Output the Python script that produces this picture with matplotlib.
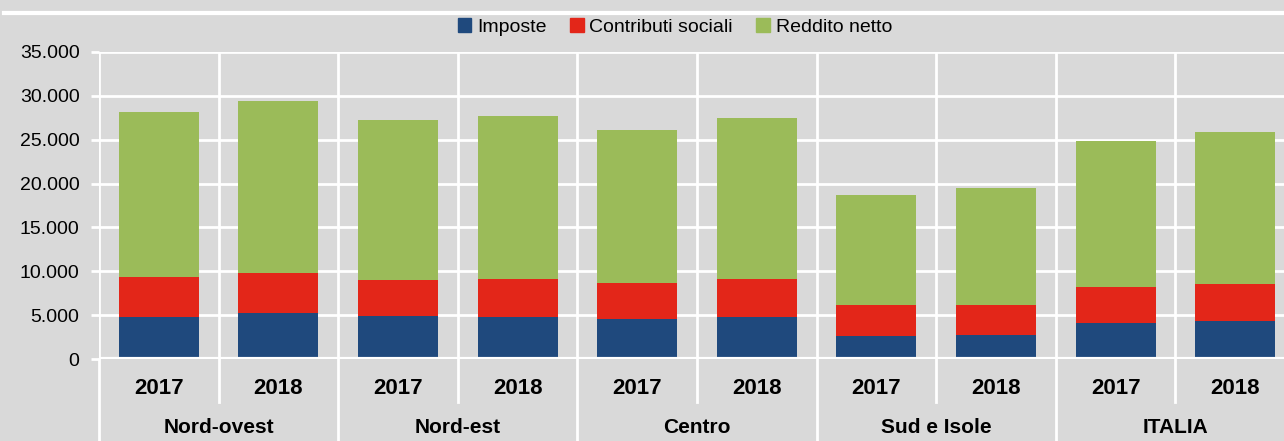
import numpy as np
import matplotlib.pyplot as plt
from matplotlib.lines import Line2D
from matplotlib.patches import Patch

plt.rcParams['font.family'] = ['Liberation Sans', 'DejaVu Sans']

groups = ["Nord-ovest", "Nord-est", "Centro", "Sud e Isole", "ITALIA"]
years = ["2017", "2018"]
imposte = [4800, 5200, 4900, 4820, 4520, 4750, 2590, 2740, 4140, 4370]
contributi = [4550, 4640, 4100, 4300, 4110, 4370, 3570, 3420, 4100, 4140]
reddito = [18810, 19560, 18250, 18580, 17470, 18380, 12540, 13340, 16610, 17340]

bg = "#d9d9d9"
c_blue, c_red, c_green = "#1f497d", "#e32619", "#9bbb59"

fig = plt.figure(figsize=(12.84, 4.41), dpi=100, facecolor=bg)
ax = fig.add_axes([99 / 1284, 1 - 359 / 441, 1196 / 1284, 307 / 441])
ax.set_facecolor(bg)

x = np.arange(len(imposte))
imp = np.array(imposte)
con = np.array(contributi)
red = np.array(reddito)
w = 0.67
ax.bar(x, imp, w, color=c_blue, zorder=3)
ax.bar(x, con, w, bottom=imp, color=c_red, zorder=3)
ax.bar(x, red, w, bottom=imp + con, color=c_green, zorder=3)

ax.set_xlim(-0.5, len(x) - 0.5)
ax.set_ylim(0, 35000)
ax.set_yticks(range(0, 35001, 5000))
ax.set_yticklabels([f"{v:,}".replace(",", ".") for v in range(0, 35001, 5000)], fontsize=14)
ax.tick_params(axis='y', length=6, color='white', width=2, pad=8)
ax.set_xticks([])
for s in ax.spines.values():
    s.set_visible(False)
ax.axvline(-0.5, color='white', lw=2, zorder=2)
for v in range(5000, 35001, 5000):
    ax.axhline(v, color='white', lw=2, zorder=1)
ax.axhline(0, color='white', lw=3, zorder=4)
for b in np.arange(0.5, len(x) - 0.5, 1):
    ax.axvline(b, color='white', lw=2, zorder=1)

# category axis labels and separators
tr = ax.get_xaxis_transform()
for i in range(len(x)):
    ax.text(i, -0.095, years[i % 2], transform=tr, ha='center', va='center',
            fontsize=16, fontweight='bold')
for g, name in enumerate(groups):
    ax.text(2 * g + 0.5, -0.222, name, transform=tr, ha='center', va='center',
            fontsize=15, fontweight='bold')
for g in range(len(groups)):
    ax.add_line(Line2D([2 * g - 0.5] * 2, [0, -0.3], transform=tr, color='white',
                       lw=2, clip_on=False))
    ax.add_line(Line2D([2 * g + 0.5] * 2, [0, -0.14], transform=tr, color='white',
                       lw=2, clip_on=False))

# top white line
fig.add_artist(Line2D([4 / 1284, 1], [1 - 13 / 441] * 2, color='white', lw=3))

handles = [Patch(color=c_blue), Patch(color=c_red), Patch(color=c_green)]
fig.legend(handles, ["Imposte", "Contributi sociali", "Reddito netto"],
           loc='center', bbox_to_anchor=(675 / 1284, 1 - 27 / 441), ncol=3,
           frameon=False, fontsize=14, handlelength=0.7, handleheight=0.7,
           handletextpad=0.3, columnspacing=1.2)

fig.savefig("out.png", dpi=100, facecolor=bg)
